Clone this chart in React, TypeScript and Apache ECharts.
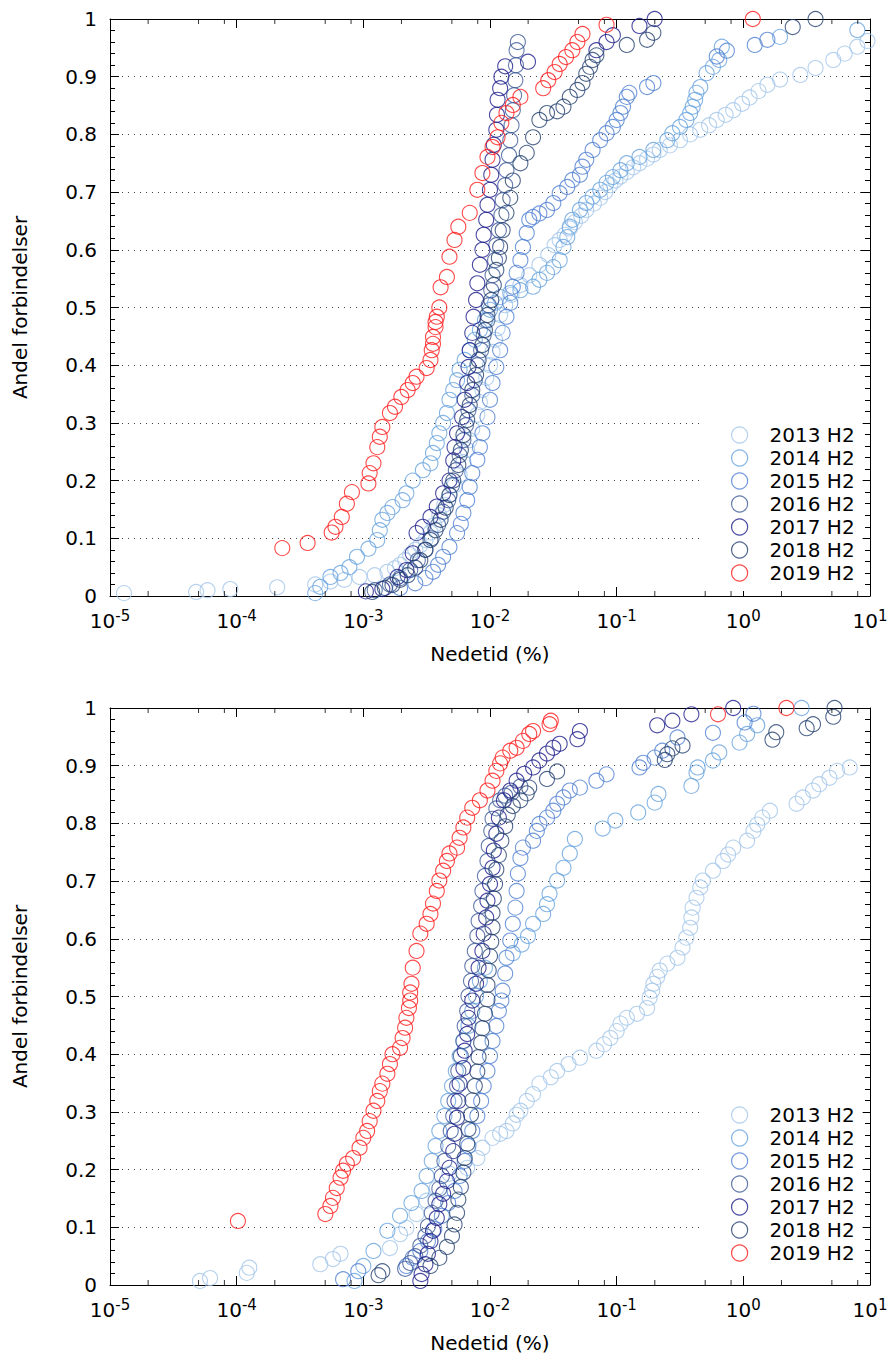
import React, { useEffect, useRef } from 'react';
import * as echarts from 'echarts';

type P = [number, number];
// Each point: [log10 of downtime (%), share of connections]

const TOP_2013: P[] = [[-4.89,.005],[-4.32,.007],[-4.23,.010],[-4.05,.012],[-3.68,.015],[-3.38,.02],[-3.26,.025],[-3.15,.028],[-3.03,.033],[-2.91,.036],[-2.81,.042],[-2.75,.048],[-2.71,.054],[-2.67,.062],[-2.63,.071],[-2.59,.08],[-2.55,.088],[-2.51,.097],[-2.47,.11],[-2.44,.123],[-2.40,.14],[-2.36,.158],[-2.32,.175],[-2.28,.192],[-2.24,.21],[-2.21,.232],[-2.18,.253],[-2.16,.27],[-2.14,.29],[-2.10,.314],[-2.08,.336],[-2.06,.357],[-2.03,.378],[-2.00,.40],[-1.98,.423],[-1.96,.444],[-1.94,.464],[-1.92,.487],[-1.88,.504],[-1.83,.522],[-1.76,.539],[-1.69,.556],[-1.61,.574],[-1.54,.591],[-1.49,.608],[-1.45,.617],[-1.41,.626],[-1.37,.637],[-1.33,.648],[-1.28,.659],[-1.24,.669],[-1.18,.68],[-1.13,.69],[-1.09,.70],[-1.05,.712],[-1.01,.72],[-0.97,.727],[-0.92,.735],[-0.87,.743],[-0.82,.75],[-0.76,.758],[-0.71,.765],[-0.66,.773],[-0.58,.781],[-0.50,.79],[-0.42,.80],[-0.34,.808],[-0.27,.816],[-0.21,.825],[-0.14,.834],[-0.08,.842],[-0.01,.853],[0.05,.864],[0.12,.875],[0.19,.886],[0.29,.895],[0.45,.903],[0.57,.915],[0.71,.929],[0.80,.94],[0.90,.952],[0.98,.962]];
const TOP_2014: P[] = [[-3.38,.005],[-3.34,.016],[-3.26,.033],[-3.18,.04],[-3.11,.05],[-3.05,.068],[-2.96,.082],[-2.89,.097],[-2.87,.114],[-2.85,.132],[-2.81,.144],[-2.77,.154],[-2.69,.166],[-2.66,.178],[-2.61,.20],[-2.53,.218],[-2.47,.23],[-2.45,.248],[-2.42,.265],[-2.40,.282],[-2.37,.30],[-2.34,.317],[-2.32,.34],[-2.29,.357],[-2.26,.374],[-2.24,.392],[-2.20,.409],[-2.16,.426],[-2.12,.444],[-2.08,.461],[-2.04,.478],[-2.00,.496],[-1.96,.508],[-1.92,.518],[-1.84,.525],[-1.76,.53],[-1.66,.536],[-1.61,.548],[-1.55,.56],[-1.50,.57],[-1.45,.582],[-1.42,.605],[-1.39,.622],[-1.37,.64],[-1.35,.652],[-1.29,.669],[-1.24,.681],[-1.19,.692],[-1.13,.704],[-1.08,.716],[-1.03,.726],[-0.97,.738],[-0.92,.75],[-0.82,.761],[-0.71,.773],[-0.60,.79],[-0.56,.802],[-0.50,.813],[-0.45,.825],[-0.42,.837],[-0.40,.848],[-0.38,.86],[-0.37,.872],[-0.34,.882],[-0.29,.906],[-0.24,.917],[-0.19,.929],[-0.17,.952],[0.29,.969],[0.90,.981]];
const TOP_2015: P[] = [[-2.71,.014],[-2.59,.022],[-2.51,.031],[-2.45,.042],[-2.41,.054],[-2.37,.068],[-2.32,.085],[-2.26,.109],[-2.23,.125],[-2.21,.144],[-2.18,.166],[-2.16,.189],[-2.14,.213],[-2.10,.236],[-2.08,.258],[-2.06,.282],[-2.02,.31],[-2.00,.34],[-1.98,.369],[-1.95,.397],[-1.92,.426],[-1.90,.456],[-1.87,.484],[-1.84,.508],[-1.82,.536],[-1.79,.56],[-1.76,.582],[-1.74,.605],[-1.71,.629],[-1.69,.652],[-1.66,.657],[-1.61,.663],[-1.55,.669],[-1.50,.681],[-1.45,.698],[-1.39,.709],[-1.35,.721],[-1.29,.73],[-1.27,.744],[-1.24,.756],[-1.19,.773],[-1.13,.79],[-1.08,.802],[-1.03,.813],[-1.00,.825],[-0.97,.837],[-0.95,.848],[-0.92,.865],[-0.90,.872],[-0.76,.882],[-0.71,.889],[-0.21,.935],[-0.13,.945],[0.09,.955],[0.19,.964]];
const TOP_2016: P[] = [[-2.91,.01],[-2.79,.02],[-2.71,.031],[-2.63,.045],[-2.57,.062],[-2.51,.08],[-2.46,.10],[-2.41,.123],[-2.37,.146],[-2.33,.166],[-2.30,.192],[-2.27,.218],[-2.24,.244],[-2.21,.27],[-2.19,.296],[-2.17,.322],[-2.14,.348],[-2.12,.374],[-2.10,.40],[-2.07,.426],[-2.05,.452],[-2.02,.478],[-2.01,.504],[-1.99,.53],[-1.98,.556],[-1.96,.582],[-1.95,.608],[-1.93,.634],[-1.91,.66],[-1.90,.686],[-1.88,.712],[-1.87,.738],[-1.85,.764],[-1.84,.79],[-1.83,.816],[-1.82,.842],[-1.81,.868],[-1.80,.894],[-1.795,.92],[-1.79,.946],[-1.78,.96]];
const TOP_2017: P[] = [[-2.98,.008],[-2.85,.012],[-2.73,.033],[-2.66,.045],[-2.61,.074],[-2.58,.109],[-2.53,.12],[-2.47,.137],[-2.42,.155],[-2.37,.178],[-2.32,.20],[-2.29,.235],[-2.28,.258],[-2.26,.282],[-2.22,.31],[-2.20,.34],[-2.18,.369],[-2.17,.397],[-2.16,.426],[-2.14,.456],[-2.13,.484],[-2.11,.513],[-2.10,.542],[-2.08,.574],[-2.06,.60],[-2.05,.626],[-2.03,.652],[-2.02,.678],[-2.00,.704],[-1.99,.73],[-1.98,.756],[-1.97,.782],[-1.95,.808],[-1.945,.834],[-1.94,.86],[-1.92,.88],[-1.91,.90],[-1.88,.918],[-1.70,.926],[-1.16,.946],[-1.08,.96],[-1.03,.972],[-0.82,.988],[-0.70,1.0]];
const TOP_2018: P[] = [[-2.93,.007],[-2.83,.014],[-2.77,.019],[-2.71,.028],[-2.65,.036],[-2.59,.049],[-2.55,.062],[-2.51,.08],[-2.47,.097],[-2.43,.114],[-2.39,.132],[-2.35,.153],[-2.32,.175],[-2.29,.20],[-2.25,.227],[-2.23,.253],[-2.21,.279],[-2.18,.305],[-2.16,.331],[-2.14,.357],[-2.11,.383],[-2.09,.409],[-2.06,.435],[-2.04,.461],[-2.02,.487],[-1.99,.513],[-1.97,.539],[-1.95,.565],[-1.93,.586],[-1.92,.605],[-1.90,.634],[-1.87,.664],[-1.84,.69],[-1.82,.72],[-1.76,.75],[-1.71,.768],[-1.66,.795],[-1.61,.825],[-1.55,.837],[-1.47,.84],[-1.42,.848],[-1.37,.865],[-1.31,.877],[-1.27,.889],[-1.24,.905],[-1.21,.917],[-1.19,.929],[-1.16,.937],[-0.92,.955],[-0.76,.964],[-0.71,.976],[0.39,.986],[0.57,1.0]];
const TOP_2019: P[] = [[-3.64,.083],[-3.44,.092],[-3.25,.11],[-3.22,.12],[-3.17,.137],[-3.13,.16],[-3.09,.18],[-2.96,.195],[-2.95,.213],[-2.92,.23],[-2.89,.258],[-2.87,.276],[-2.85,.293],[-2.79,.317],[-2.75,.328],[-2.70,.345],[-2.65,.357],[-2.61,.369],[-2.58,.38],[-2.50,.395],[-2.47,.409],[-2.46,.426],[-2.45,.437],[-2.45,.449],[-2.43,.466],[-2.43,.475],[-2.42,.484],[-2.40,.50],[-2.39,.535],[-2.34,.553],[-2.32,.588],[-2.28,.617],[-2.25,.64],[-2.16,.664],[-2.10,.704],[-2.06,.733],[-2.02,.761],[-1.98,.778],[-1.94,.795],[-1.91,.82],[-1.87,.837],[-1.82,.851],[-1.76,.865],[-1.58,.88],[-1.54,.894],[-1.49,.908],[-1.45,.922],[-1.40,.934],[-1.35,.946],[-1.31,.96],[-1.27,.974],[-1.08,.99],[0.075,1.0]];

const BOT_2013: P[] = [[-4.29,.007],[-4.21,.012],[-3.92,.021],[-3.90,.03],[-3.34,.036],[-3.24,.045],[-3.18,.054],[-2.79,.064],[-2.71,.088],[-2.66,.099],[-2.58,.123],[-2.50,.146],[-2.42,.168],[-2.32,.193],[-2.18,.203],[-2.10,.22],[-2.06,.238],[-1.98,.255],[-1.92,.262],[-1.87,.267],[-1.82,.28],[-1.79,.295],[-1.76,.302],[-1.71,.319],[-1.66,.331],[-1.61,.349],[-1.52,.36],[-1.47,.371],[-1.38,.383],[-1.29,.394],[-1.16,.406],[-1.10,.417],[-1.05,.428],[-1.00,.44],[-0.97,.453],[-0.92,.463],[-0.84,.47],[-0.76,.48],[-0.74,.498],[-0.72,.51],[-0.71,.522],[-0.68,.534],[-0.66,.545],[-0.60,.557],[-0.52,.567],[-0.48,.585],[-0.45,.602],[-0.42,.619],[-0.41,.637],[-0.40,.654],[-0.37,.671],[-0.34,.689],[-0.32,.701],[-0.24,.718],[-0.16,.735],[-0.12,.746],[-0.08,.758],[0.03,.77],[0.08,.787],[0.11,.798],[0.15,.81],[0.21,.822],[0.42,.834],[0.47,.845],[0.55,.857],[0.60,.868],[0.68,.879],[0.74,.891],[0.84,.897]];
const BOT_2014: P[] = [[-3.07,.007],[-3.00,.033],[-2.92,.059],[-2.81,.094],[-2.71,.12],[-2.62,.142],[-2.54,.163],[-2.50,.189],[-2.46,.215],[-2.43,.241],[-2.40,.267],[-2.36,.293],[-2.33,.319],[-2.30,.345],[-2.27,.371],[-2.24,.397],[-2.21,.423],[-2.17,.449],[-2.14,.475],[-2.11,.501],[-2.08,.527],[-2.04,.55],[-1.82,.575],[-1.75,.59],[-1.70,.605],[-1.66,.626],[-1.58,.643],[-1.55,.66],[-1.53,.678],[-1.47,.701],[-1.42,.723],[-1.37,.748],[-1.33,.773],[-1.11,.791],[-1.01,.805],[-0.83,.819],[-0.70,.836],[-0.67,.851],[-0.41,.865],[-0.37,.888],[-0.36,.897],[-0.24,.909],[-0.19,.923],[-0.03,.94],[0.03,.955],[0.11,.97],[0.46,1.0]];
const BOT_2015: P[] = [[-3.16,.01],[-3.04,.024],[-2.66,.033],[-2.61,.047],[-2.55,.059],[-2.49,.076],[-2.44,.097],[-2.38,.12],[-2.33,.142],[-2.28,.163],[-2.24,.189],[-2.20,.215],[-2.17,.241],[-2.14,.267],[-2.10,.293],[-2.07,.319],[-2.05,.345],[-2.02,.371],[-2.00,.397],[-1.98,.423],[-1.95,.449],[-1.93,.475],[-1.91,.493],[-1.90,.51],[-1.88,.54],[-1.87,.567],[-1.84,.597],[-1.82,.626],[-1.80,.654],[-1.79,.683],[-1.78,.713],[-1.76,.74],[-1.74,.758],[-1.66,.77],[-1.63,.787],[-1.61,.799],[-1.55,.81],[-1.50,.822],[-1.47,.834],[-1.42,.845],[-1.37,.857],[-1.29,.862],[-1.16,.874],[-1.08,.885],[-0.82,.897],[-0.79,.905],[-0.70,.914],[-0.64,.926],[-0.52,.949],[-0.24,.957],[0.01,.975],[0.08,.99]];
const BOT_2016: P[] = [[-2.67,.028],[-2.63,.038],[-2.59,.05],[-2.55,.068],[-2.51,.085],[-2.49,.102],[-2.46,.125],[-2.43,.146],[-2.40,.167],[-2.38,.189],[-2.36,.215],[-2.33,.241],[-2.31,.267],[-2.29,.293],[-2.28,.319],[-2.26,.345],[-2.25,.371],[-2.23,.397],[-2.21,.423],[-2.20,.449],[-2.18,.475],[-2.17,.501],[-2.15,.527],[-2.14,.553],[-2.12,.579],[-2.10,.605],[-2.09,.631],[-2.07,.657],[-2.06,.683],[-2.04,.709],[-2.02,.735],[-2.01,.761],[-1.99,.787],[-1.98,.808],[-1.95,.826],[-1.92,.84],[-1.88,.848],[-1.83,.853],[-1.76,.864]];
const BOT_2017: P[] = [[-2.55,.007],[-2.54,.019],[-2.51,.036],[-2.49,.054],[-2.47,.076],[-2.45,.094],[-2.42,.116],[-2.40,.14],[-2.37,.158],[-2.34,.18],[-2.32,.203],[-2.29,.232],[-2.28,.262],[-2.26,.29],[-2.25,.319],[-2.24,.349],[-2.21,.376],[-2.20,.406],[-2.18,.435],[-2.17,.463],[-2.14,.493],[-2.11,.522],[-2.09,.55],[-2.06,.579],[-2.05,.609],[-2.03,.637],[-2.02,.666],[-2.00,.695],[-1.98,.723],[-1.97,.753],[-1.95,.782],[-1.93,.81],[-1.89,.84],[-1.84,.857],[-1.79,.874],[-1.73,.886],[-1.66,.897],[-1.61,.909],[-1.55,.921],[-1.50,.931],[-1.45,.938],[-1.31,.946],[-1.29,.96],[-0.68,.97],[-0.56,.978],[-0.41,.989],[-0.08,1.0]];
const BOT_2018: P[] = [[-2.88,.017],[-2.85,.024],[-2.47,.033],[-2.40,.047],[-2.34,.066],[-2.30,.085],[-2.28,.105],[-2.26,.125],[-2.25,.148],[-2.23,.17],[-2.21,.195],[-2.20,.22],[-2.18,.245],[-2.17,.27],[-2.15,.295],[-2.14,.32],[-2.12,.345],[-2.10,.37],[-2.09,.395],[-2.07,.42],[-2.06,.445],[-2.04,.47],[-2.02,.495],[-2.02,.52],[-2.01,.545],[-2.00,.57],[-1.99,.595],[-1.98,.62],[-1.98,.645],[-1.97,.67],[-1.96,.695],[-1.95,.72],[-1.93,.745],[-1.91,.77],[-1.88,.795],[-1.86,.815],[-1.82,.83],[-1.76,.84],[-1.71,.852],[-1.69,.862],[-1.55,.877],[-1.47,.89],[-0.62,.91],[-0.60,.92],[-0.56,.93],[-0.48,.935],[0.23,.945],[0.26,.958],[0.50,.965],[0.55,.972],[0.71,.985],[0.72,1.0]];
const BOT_2019: P[] = [[-3.99,.111],[-3.30,.123],[-3.26,.137],[-3.24,.151],[-3.21,.168],[-3.18,.186],[-3.16,.198],[-3.13,.21],[-3.08,.22],[-3.03,.238],[-3.00,.255],[-2.97,.267],[-2.95,.284],[-2.92,.302],[-2.89,.319],[-2.87,.336],[-2.85,.349],[-2.81,.366],[-2.79,.383],[-2.77,.40],[-2.71,.411],[-2.69,.428],[-2.67,.446],[-2.66,.463],[-2.64,.48],[-2.63,.493],[-2.63,.507],[-2.62,.522],[-2.61,.55],[-2.58,.579],[-2.55,.609],[-2.50,.626],[-2.47,.643],[-2.45,.661],[-2.42,.683],[-2.40,.701],[-2.37,.718],[-2.34,.735],[-2.32,.748],[-2.26,.758],[-2.24,.775],[-2.21,.793],[-2.18,.81],[-2.14,.827],[-2.08,.84],[-2.02,.857],[-1.98,.874],[-1.95,.891],[-1.92,.904],[-1.90,.914],[-1.84,.926],[-1.79,.931],[-1.74,.943],[-1.69,.955],[-1.66,.96],[-1.53,.972],[-1.52,.978],[-0.20,.989],[0.34,1.0]];

const NAMES = ['2013 H2', '2014 H2', '2015 H2', '2016 H2', '2017 H2', '2018 H2', '2019 H2'];
const COLORS = ['#a3c6ea', '#67a3dd', '#4f7fd2', '#3d5a98', '#1c1c8a', '#24416f', '#ff1a1a'];
const TOP_SETS = [TOP_2013, TOP_2014, TOP_2015, TOP_2016, TOP_2017, TOP_2018, TOP_2019];
const BOT_SETS = [BOT_2013, BOT_2014, BOT_2015, BOT_2016, BOT_2017, BOT_2018, BOT_2019];
const X_MINOR_TICKS = [2e-5, 5e-5, 8e-5, 2e-4, 5e-4, 8e-4, 2e-3, 5e-3, 8e-3, 2e-2, 5e-2, 8e-2, 0.2, 0.5, 0.8, 2, 5, 8];
const X_NAME = 'Nedetid (%)';
const Y_NAME = 'Andel forbindelser';

const FONT = '"DejaVu Sans", sans-serif';

export default function App() {
  const ref = useRef<HTMLDivElement>(null);
  useEffect(() => {
    const chart = echarts.init(ref.current!, null, { renderer: 'svg' });
    const grids = [
      { left: 110, top: 19, width: 760, height: 577 },
      { left: 110, top: 708, width: 760, height: 577 },
    ];
    const xAxes: any[] = [];
    const yAxes: any[] = [];
    [0, 1].forEach((g) => {
      ['bottom', 'top'].forEach((pos) => {
        xAxes.push({
          type: 'log', logBase: 10, gridIndex: g, position: pos, min: 1e-5, max: 10,
          axisLine: { show: true, onZero: false, lineStyle: { color: '#000', width: 1 } },
          axisTick: { show: true, inside: true, length: 9, lineStyle: { color: '#000', width: 1 } },
          splitLine: { show: false },
          axisLabel: pos === 'bottom' ? {
            show: true, margin: 12, showMinLabel: true, showMaxLabel: true,
            formatter: (v: number) => `{b|10}{s|${Math.round(Math.log10(v))}}`,
            rich: {
              b: { fontFamily: FONT, fontSize: 20, color: '#000', lineHeight: 23, verticalAlign: 'bottom' },
              s: { fontFamily: FONT, fontSize: 15, color: '#000', lineHeight: 15, verticalAlign: 'top' },
            },
          } : { show: false },
          name: pos === 'bottom' ? X_NAME : '',
          nameLocation: 'middle', nameGap: 48,
          nameTextStyle: { fontFamily: FONT, fontSize: 20, color: '#000' },
        });
      });
      ['left', 'right'].forEach((pos) => {
        yAxes.push({
          type: 'value', gridIndex: g, position: pos, min: 0, max: 1, interval: 0.1,
          axisLine: { show: true, onZero: false, lineStyle: { color: '#000', width: 1 } },
          axisTick: { show: true, inside: true, length: 9, lineStyle: { color: '#000', width: 1 } },
          minorTick: { show: true, splitNumber: 5, length: 5, lineStyle: { color: '#000', width: 1 } },
          splitLine: pos === 'left' ? { show: true, lineStyle: { color: '#444', width: 1, type: [1, 5] } } : { show: false },
          axisLabel: pos === 'left' ? {
            show: true, margin: 13, fontFamily: FONT, fontSize: 20, color: '#000',
            showMinLabel: true, showMaxLabel: true,
            formatter: (v: number) => (v === 0 ? '0' : v >= 0.999 ? '1' : v.toFixed(1)),
          } : { show: false },
          name: pos === 'left' ? Y_NAME : '',
          nameLocation: 'middle', nameGap: 80, nameRotate: 90,
          nameTextStyle: { fontFamily: FONT, fontSize: 20, color: '#000' },
        });
      });
    });

    const series: any[] = [];
    [TOP_SETS, BOT_SETS].forEach((sets, g) => {
      sets.forEach((set, i) => {
        series.push({
          type: 'scatter', name: NAMES[i], xAxisIndex: g * 2, yAxisIndex: g * 2,
          data: set.map(([l, y]) => [Math.pow(10, l), y]),
          symbol: 'circle', symbolSize: 15, clip: false,
          itemStyle: { color: 'rgba(0,0,0,0)', borderColor: COLORS[i], borderWidth: 1.1 },
          emphasis: { disabled: true }, silent: true, z: 2 + i,
        });
      });
      [[0, -2.5], [1, 2.5]].forEach(([yv, off]) => {
        series.push({
          type: 'scatter', name: '_minor', xAxisIndex: g * 2, yAxisIndex: g * 2,
          data: X_MINOR_TICKS.map((v) => [v, yv]),
          symbol: 'rect', symbolSize: [1, 5], symbolOffset: [0, off], clip: false,
          itemStyle: { color: '#000' }, silent: true, z: 20,
        });
      });
    });

    const legends = [417, 1097].map((top) => ({
      orient: 'vertical', left: 700, top, itemWidth: 16, itemHeight: 16, itemGap: 3,
      backgroundColor: '#fff', padding: [8, 8, 8, 31], selectedMode: false,
      textStyle: { fontFamily: FONT, fontSize: 20, color: '#000', lineHeight: 20, padding: [0, 0, 0, 17] },
      data: NAMES.map((n, i) => ({
        name: n, icon: 'circle',
        itemStyle: { color: 'rgba(0,0,0,0)', borderColor: COLORS[i], borderWidth: 1.2 },
      })),
    }));

    chart.setOption({
      animation: false,
      backgroundColor: '#fff',
      grid: grids,
      xAxis: xAxes,
      yAxis: yAxes,
      legend: legends,
      series,
    });
    return () => chart.dispose();
  }, []);
  return <div ref={ref} style={{ position: 'absolute', left: 0, top: 0, width: 891, height: 1358, background: '#fff' }} />;
}
